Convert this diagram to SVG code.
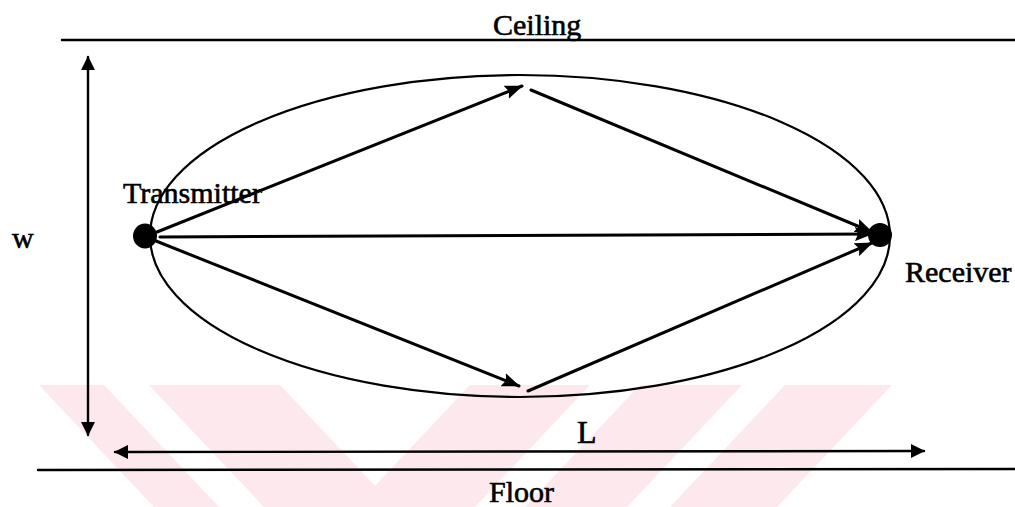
<svg xmlns="http://www.w3.org/2000/svg" width="1015" height="507" viewBox="0 0 1015 507">
  <style>
    .txt { font-family: "Liberation Serif", "Times New Roman", serif; font-size: 30px; fill: #000; stroke: #000; stroke-width: 0.6; }
    .ln { stroke: #000; stroke-width: 2.4; fill: none; stroke-linecap: round; }
    .ray { stroke: #000; stroke-width: 3; fill: none; stroke-linecap: round; }
    .wm { fill: #fde9ed; }
  </style>
  <defs>
    <marker id="ah" viewBox="0 0 18 14" refX="17" refY="7" markerWidth="18" markerHeight="14" markerUnits="userSpaceOnUse" orient="auto-start-reverse">
      <path d="M0,0 L18,7 L0,14 L3,7 Z" fill="#000"/>
    </marker>
    <marker id="dh" viewBox="0 0 14 14" refX="13" refY="7" markerWidth="14" markerHeight="14" markerUnits="userSpaceOnUse" orient="auto-start-reverse">
      <path d="M0,0 L14,7 L0,14 Z" fill="#000"/>
    </marker>
  </defs>
  <rect width="1015" height="507" fill="#fff"/>
  <g id="watermark">
    <polygon class="wm" points="39,385 104,385 219,507 154,507"/>
    <polygon class="wm" points="149,385 280,385 395,507 264,507"/>
    <polygon class="wm" points="470,385 590,385 475,507 355,507"/>
    <polygon class="wm" points="640,385 742,385 627,507 525,507"/>
    <polygon class="wm" points="785,385 892,385 777,507 670,507"/>
  </g>
  <g id="ceiling">
    <line class="ln" x1="62" y1="40" x2="1015" y2="40"/>
    <text class="txt" x="493" y="35">Ceiling</text>
  </g>
  <g id="floor">
    <line class="ln" x1="38" y1="470" x2="1015" y2="469"/>
    <text class="txt" x="489" y="502">Floor</text>
  </g>
  <g id="region">
    <ellipse cx="520" cy="236" rx="370" ry="161" fill="none" stroke="#000" stroke-width="2.2"/>
  </g>
  <g id="width-dim">
    <line class="ln" x1="88" y1="57" x2="88" y2="435" marker-start="url(#dh)" marker-end="url(#dh)"/>
    <text class="txt" x="12" y="248">w</text>
  </g>
  <g id="length-dim">
    <line class="ln" x1="115" y1="452" x2="924" y2="451" marker-start="url(#dh)" marker-end="url(#dh)"/>
    <text class="txt" x="577" y="443" style="font-size:32px">L</text>
  </g>
  <g id="connectors">
    <line class="ray" x1="157" y1="232" x2="522" y2="86" marker-end="url(#ah)"/>
    <line class="ray" x1="531" y1="90" x2="872" y2="232" marker-end="url(#ah)"/>
    <line class="ray" x1="160" y1="237" x2="872" y2="234" marker-end="url(#ah)"/>
    <line class="ray" x1="156" y1="241" x2="519" y2="386" marker-end="url(#ah)"/>
    <line class="ray" x1="528" y1="391" x2="872" y2="243" marker-end="url(#ah)"/>
  </g>
  <g id="transmitter">
    <ellipse cx="145" cy="236" rx="12" ry="12.5" fill="#000"/>
    <text class="txt" x="123" y="203">Transmitter</text>
  </g>
  <g id="receiver">
    <ellipse cx="880" cy="235" rx="12" ry="12" fill="#000"/>
    <text class="txt" x="905" y="282">Receiver</text>
  </g>
</svg>
